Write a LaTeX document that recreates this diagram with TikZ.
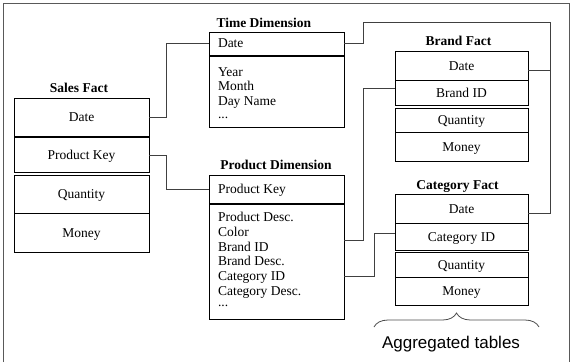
\documentclass[tikz,border=0pt]{standalone}
\usepackage{fontspec}
\setmainfont{Liberation Serif}
\newfontfamily\labelsans{Liberation Sans}
\usetikzlibrary{calc,decorations.pathreplacing}

\tikzset{
  every node/.style={font=\fontsize{13.5bp}{14.7bp}\selectfont,
    text height=10bp, text depth=1bp, inner sep=0pt, outer sep=0pt},
  cell/.style={draw=black, line width=0.8bp, anchor=north west, minimum width=133bp},
  widecell/.style={cell, minimum width=135bp},
  title/.style={font=\fontsize{13.5bp}{14.7bp}\selectfont\bfseries},
  attr/.style={anchor=west},
  link/.style={draw=black!75, line width=0.8bp},
  frameline/.style={draw=black!65, line width=1bp},
}

\begin{document}
\begin{tikzpicture}[x=1bp,y=-1bp]
\useasboundingbox (0,0) rectangle (570,362);

% outer frame
\draw[frameline] (3.5,362) |- (569.5,3) -- (569.5,362);

% Sales Fact
\node[title] (sTitle) at (79,88) {Sales Fact};
\node[widecell, minimum height=38.5bp] (sDate)  at (14,98)    {Date};
\node[widecell, minimum height=35bp]   (sKey)   at (14,137.5) {Product Key};
\node[widecell, minimum height=38bp]   (sQty)   at (14,175)   {Quantity};
\node[widecell, minimum height=39bp]   (sMoney) at (14,213)   {Money};

% Time Dimension
\node[title, anchor=west] (tTitle) at (216.5,23) {Time Dimension};
\node[widecell, minimum height=23.5bp] (tDate) at (209,32) {};
\node[widecell, minimum height=70.5bp] (tBody) at (209,56.5) {};
\node[attr] (tDateTxt) at (218,43) {Date};
\node[attr] (tYear)  at (218,71.7)  {Year};
\node[attr] (tMonth) at (218,86.4)  {Month};
\node[attr] (tDay)   at (218,101.1) {Day Name};
\node[attr, text height=2bp] (tMore) at (218,118) {...};

% Product Dimension
\node[title] (pTitle) at (276,165) {Product Dimension};
\node[widecell, minimum height=28.5bp]  (pKey)  at (209,175)   {};
\node[widecell, minimum height=114.5bp] (pBody) at (209,204.5) {};
\node[attr] (pKeyTxt) at (218,188.5) {Product Key};
\node[attr] (pDesc)    at (218,217.3) {Product Desc.};
\node[attr] (pColor)   at (218,232)   {Color};
\node[attr] (pBrand)   at (218,246.7) {Brand ID};
\node[attr] (pBrandD)  at (218,261.4) {Brand Desc.};
\node[attr] (pCat)     at (218,276.1) {Category ID};
\node[attr] (pCatD)    at (218,290.8) {Category Desc.};
\node[attr, text height=2bp] (pMore) at (218,306) {...};

% Brand Fact
\node[title] (bTitle) at (458.5,41) {Brand Fact};
\node[cell, minimum height=29bp]   (bDate)  at (395,51)    {Date};
\node[cell, minimum height=25.7bp] (bID)    at (395,80)    {Brand ID};
\node[cell, minimum height=23.7bp] (bQty)   at (395,108.3) {Quantity};
\node[cell, minimum height=29bp]   (bMoney) at (395,132)   {Money};

% Category Fact
\node[title] (cTitle) at (457.5,185) {Category Fact};
\node[cell, minimum height=29bp]   (cDate)  at (395,194)   {Date};
\node[cell, minimum height=27bp]   (cID)    at (395,223)   {Category ID};
\node[cell, minimum height=24.5bp] (cQty)   at (395,252.5) {Quantity};
\node[cell, minimum height=28bp]   (cMoney) at (395,277)   {Money};

% key links
\coordinate (bus) at (550,22.5);
\draw[link] (sDate.east) -- ++(17,0) |- (tDate.west);
\draw[link] (sKey.east) -- ++(17,0) |- (pKey.west);
\draw[link] (tDate.east) -- ++(19,0) |- (bus) |- ($(cDate.east)+(0,4.5)$);
\draw[link] ($(bDate.east)+(0,4.5)$) -- ++(22,0);
\draw[link] ($(pBody.east |- pBrand.west)+(0,-6)$) -- ++(19,0) |- ($(bID.west)+(0,-4)$);
\draw[link] (pBody.east |- pCat.west) -- ++(30,0) |- ($(cID.west)+(0,-3.5)$);

% brace over the aggregated tables
\draw[draw=black!70, line width=0.8bp, decorate, decoration={brace, amplitude=14bp}]
  (374,327) -- (539,327);
\node[font=\labelsans\fontsize{17bp}{20bp}\selectfont, text height=12bp, text depth=0bp] (aggLabel)
  at (451,342) {Aggregated tables};
\end{tikzpicture}
\end{document}
